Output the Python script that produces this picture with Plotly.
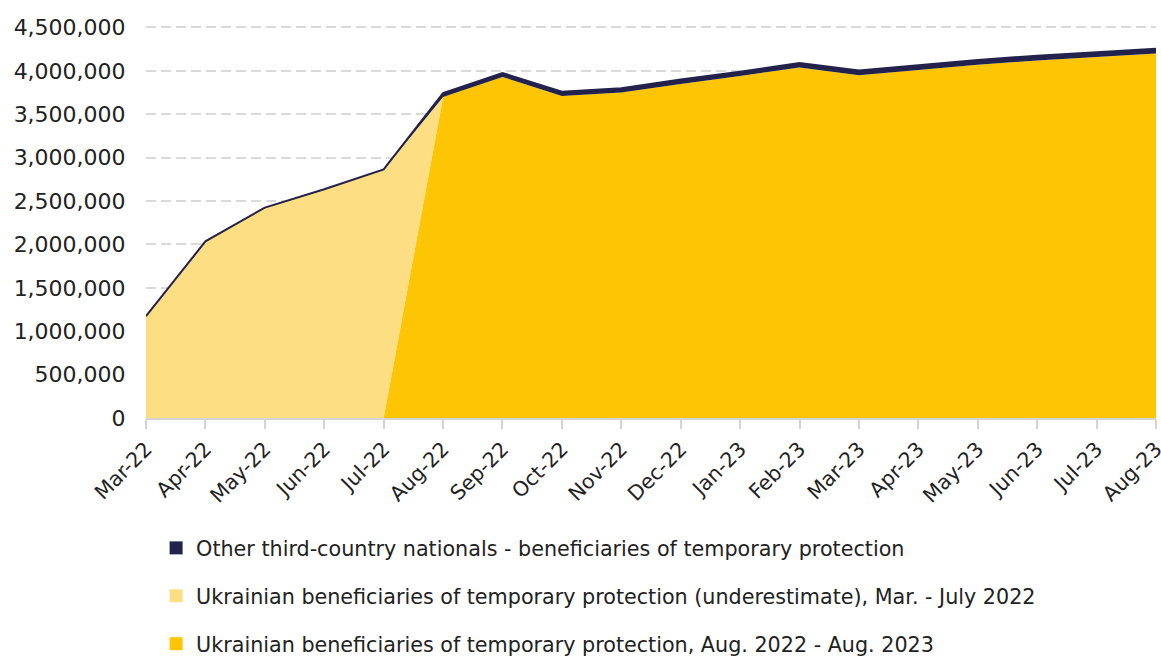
import plotly.graph_objects as go

months = ["Mar-22", "Apr-22", "May-22", "Jun-22", "Jul-22", "Aug-22", "Sep-22", "Oct-22",
          "Nov-22", "Dec-22", "Jan-23", "Feb-23", "Mar-23", "Apr-23", "May-23", "Jun-23",
          "Jul-23", "Aug-23"]

# Ukrainian beneficiaries, Aug. 2022 - Aug. 2023
ukr_late = [0, 0, 0, 0, 0, 3700000, 3930000, 3710000, 3750000, 3850000, 3940000, 4040000,
            3950000, 4010000, 4070000, 4120000, 4160000, 4200000]
# Ukrainian beneficiaries (underestimate), Mar. - July 2022
ukr_early = [1170000, 2030000, 2420000, 2630000, 2860000, 0, 0, 0, 0, 0, 0, 0,
             0, 0, 0, 0, 0, 0]
# Other third-country nationals
other = [5000, 5000, 5000, 5000, 5000, 45000, 45000, 50000, 50000, 50000, 50000, 50000,
         55000, 55000, 55000, 55000, 55000, 55000]

y_ticks = [i * 500000 for i in range(10)]

names = ["Other third-country nationals - beneficiaries of temporary protection",
         "Ukrainian beneficiaries of temporary protection (underestimate), Mar. - July 2022",
         "Ukrainian beneficiaries of temporary protection, Aug. 2022 - Aug. 2023"]

NAVY = "#23224C"
LIGHT = "#FDDE82"
DARK = "#FDC503"
FONT = "DejaVu Sans"
TXT = "#222222"

fig = go.Figure()
fig.add_trace(go.Scatter(x=months, y=ukr_late, stackgroup="one", mode="lines",
                         line=dict(width=0, color=DARK), fillcolor=DARK, showlegend=False))
fig.add_trace(go.Scatter(x=months, y=ukr_early, stackgroup="one", mode="lines",
                         line=dict(width=0, color=LIGHT), fillcolor=LIGHT, showlegend=False))
fig.add_trace(go.Scatter(x=months, y=other, stackgroup="one", mode="lines",
                         line=dict(width=2, color=NAVY), fillcolor=NAVY, showlegend=False))

for i, (nm, col) in enumerate(zip(names, [NAVY, LIGHT, DARK])):
    fig.add_trace(go.Scatter(x=[None], y=[None], mode="markers", name=nm,
                             marker=dict(symbol="square", size=13, color=col),
                             legendgroup=f"g{i}", showlegend=True))

fig.update_layout(
    width=1161, height=657,
    margin=dict(l=146, r=5, t=23.5, b=239, autoexpand=False),
    paper_bgcolor="white", plot_bgcolor="white",
    font=dict(family=FONT, size=20, color=TXT),
    showlegend=True,
    legend=dict(x=0.01, xanchor="left", y=-0.279, yanchor="top",
                orientation="v", traceorder="grouped", tracegroupgap=18,
                font=dict(family=FONT, size=20.7, color=TXT),
                bgcolor="rgba(0,0,0,0)"),
    xaxis=dict(type="category", range=[0, len(months) - 1], tickangle=-45,
               automargin=False,
               showgrid=False, showline=True, linecolor="#D4D4D4", linewidth=2,
               ticks="outside", ticklen=9, tickwidth=2, tickcolor="#D4D4D4",
               tickfont=dict(family=FONT, size=20.5, color=TXT)),
    yaxis=dict(range=[0, 4540000], tickvals=y_ticks, tickformat=",",
               automargin=False,
               showgrid=True, gridcolor="#D9D9D9", gridwidth=2, griddash="10px,5px",
               zeroline=False, showline=False,
               ticks="outside", ticklen=15, tickcolor="rgba(0,0,0,0)",
               tickfont=dict(family=FONT, size=22, color=TXT)),
)

fig.write_html("out.html", config={"displayModeBar": False},
               post_script="document.body.style.margin='0';document.body.style.overflow='hidden';")
